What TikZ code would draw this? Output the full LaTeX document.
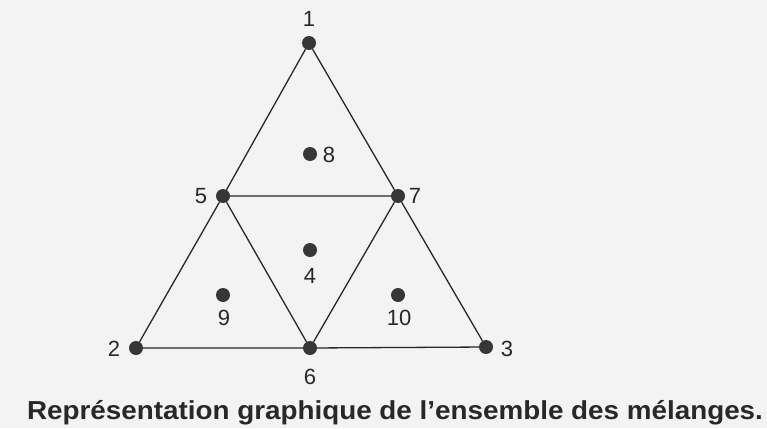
\documentclass[tikz,border=0pt]{standalone}
\usepackage{fontspec}
\setmainfont{Liberation Sans}
\usetikzlibrary{positioning}
\definecolor{mypaper}{RGB}{243,243,243}
\definecolor{myink}{RGB}{40,40,40}
\definecolor{mydot}{RGB}{55,55,55}

\begin{document}
\begin{tikzpicture}[x=1pt, y=-1pt, font=\fontsize{22}{24}\selectfont, text=myink,
    dot/.style={circle, fill=mydot, inner sep=0pt, minimum size=14pt},
    edge/.style={draw=myink, line width=1.3pt}]
  \fill[mypaper] (0,0) rectangle (767,428);

  % mixture points
  \foreach \i/\x/\y in {1/309/43, 2/136/348, 3/486/347, 4/310/250, 5/223/196,
                        6/310/348, 7/398/196, 8/310/154, 9/223/295, 10/398/295}{
    \node[dot] (p\i) at (\x,\y) {};
  }

  % point numbers
  \foreach \i/\x/\y in {1/309/19, 2/114/349, 3/507/349, 4/310/276, 5/201/196,
                        6/310/377, 7/415/196, 8/329/155, 9/224/318, 10/399/318}{
    \node (n\i) at (\x,\y) {\i};
  }

  % triangle and inner triangle
  \draw[edge] (p1) -- (p5) -- (p2) -- (p6) -- (p3) -- (p7) -- (p1);
  \draw[edge] (p5) -- (p7) -- (p6) -- (p5);

  \node[font=\fontsize{26}{29}\selectfont\bfseries, anchor=base,
        transform shape, xscale=1.07] (caption)
    at (395,419) {Représentation graphique de l’ensemble des mélanges.};
\end{tikzpicture}
\end{document}
